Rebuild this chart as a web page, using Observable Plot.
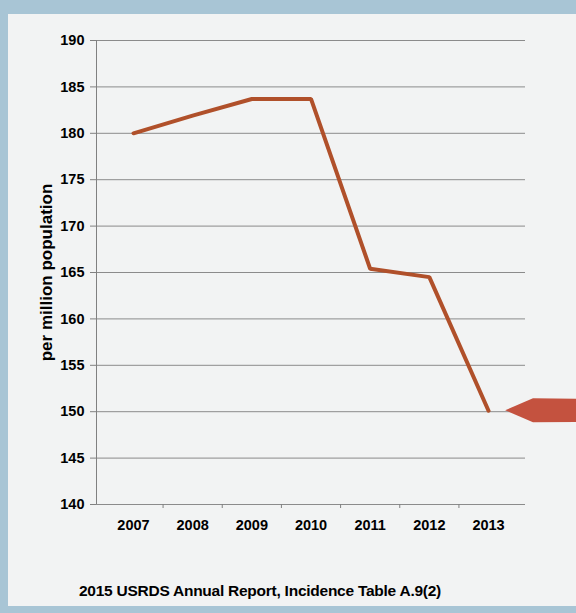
<!DOCTYPE html>
<html>
<head>
<meta charset="utf-8">
<script src="https://cdn.jsdelivr.net/npm/d3@7"></script>
<script src="https://cdn.jsdelivr.net/npm/@observablehq/plot@0.6"></script>
<style>
  html, body { margin: 0; padding: 0; }
  body { width: 576px; height: 613px; background: #a8c5d5; position: relative; overflow: hidden; font-family: "Liberation Sans", Arial, sans-serif; }
  #panel { position: absolute; left: 8px; top: 14px; width: 568px; height: 592px; background: #f2f3f3; }
  #chart { position: absolute; left: 0; top: 0; }
  #caption { position: absolute; left: 0; width: 520px; top: 582px; text-align: center; font-weight: bold; font-size: 15.5px; letter-spacing: -0.25px; color: #000; }
</style>
</head>
<body>
<div id="panel"></div>
<div id="chart"></div>
<div id="caption">2015 USRDS Annual Report, Incidence Table A.9(2)</div>
<script>
// Data
const years = [2007, 2008, 2009, 2010, 2011, 2012, 2013];
const rates = [180.0, 181.9, 183.7, 183.7, 165.4, 164.5, 150.1];
const yTicks = [140, 145, 150, 155, 160, 165, 170, 175, 180, 185, 190];
const yLabel = "per million population";

// Annotation arrow pointing at the 2013 value (x in year units, half-height in y units)
const arrowX = [2013.29, 2013.76, 2014.5];
const arrowHalf = [0, 1.3, 1.25];

const data = years.map((year, i) => ({year, rate: rates[i]}));
const last = rates[rates.length - 1];
const arrow = arrowX.map((x, i) => ({x, y1: last - arrowHalf[i], y2: last + arrowHalf[i]}));

const chart = Plot.plot({
  width: 576,
  height: 545,
  marginLeft: 96,
  marginRight: 51,
  marginTop: 40,
  marginBottom: 41,
  style: {background: "transparent", fontFamily: "Liberation Sans, Arial, sans-serif", fontSize: "14.5px", fontWeight: "bold", color: "#000"},
  x: {domain: [2006.375, 2013.625], label: null},
  y: {domain: [140, 190], label: null},
  marks: [
    Plot.gridY(yTicks, {stroke: "#808080", strokeOpacity: 0.9, strokeWidth: 1}),
    Plot.axisY(yTicks, {tickSize: 6, tickPadding: 6, stroke: "#808080", fill: "#000", label: yLabel, labelAnchor: "center", labelArrow: "none", labelOffset: 57, fontWeight: "bold", fontSize: 14.5}),
    Plot.ruleX([2006.375], {stroke: "#808080", strokeWidth: 1}),
    Plot.axisX(years.slice(0, -1).map(y => y + 0.5), {tickSize: 4, stroke: "#808080", tickFormat: () => ""}),
    Plot.axisX(years, {tickSize: 0, tickPadding: 15, fill: "#000", tickFormat: d => String(d), fontWeight: "bold", fontSize: 14.5, label: null}),
    Plot.line(data, {x: "year", y: "rate", stroke: "#b0502a", strokeWidth: 4, strokeLinejoin: "miter"}),
    Plot.areaY(arrow, {x: "x", y1: "y1", y2: "y2", fill: "#c4523f", clip: false})
  ]
});
// enlarge the rotated y-axis title to match the reference
chart.querySelectorAll("g[aria-label='y-axis label'] text").forEach(t => t.setAttribute("font-size", "17"));
document.getElementById("chart").appendChild(chart);
</script>
</body>
</html>
